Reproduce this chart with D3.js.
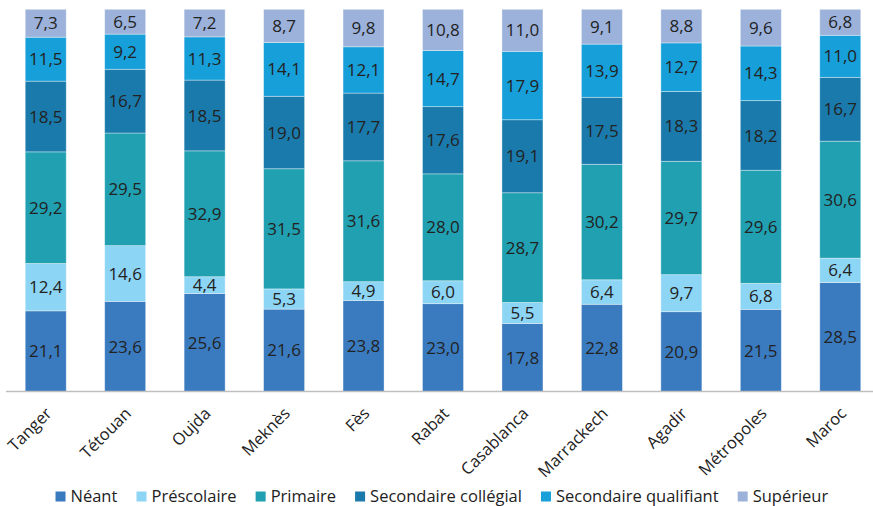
<!DOCTYPE html>
<html>
<head>
<meta charset="utf-8">
<script src="https://cdn.jsdelivr.net/npm/d3@7"></script>
<style>
  html, body { margin: 0; padding: 0; background: #fff; }
  svg { display: block; font-family: "Open Sans", "Noto Sans", sans-serif; }
</style>
</head>
<body>
<svg id="chart" width="873" height="506"></svg>
<script>
// Niveau d'instruction par ville (%)
const categories = ["Tanger", "Tétouan", "Oujda", "Meknès", "Fès", "Rabat",
  "Casablanca", "Marrackech", "Agadir", "Métropoles", "Maroc"];
const seriesNames = ["Néant", "Préscolaire", "Primaire", "Secondaire collégial",
  "Secondaire qualifiant", "Supérieur"];
const neant       = [21.1, 23.6, 25.6, 21.6, 23.8, 23.0, 17.8, 22.8, 20.9, 21.5, 28.5];
const prescolaire = [12.4, 14.6, 4.4, 5.3, 4.9, 6.0, 5.5, 6.4, 9.7, 6.8, 6.4];
const primaire    = [29.2, 29.5, 32.9, 31.5, 31.6, 28.0, 28.7, 30.2, 29.7, 29.6, 30.6];
const college     = [18.5, 16.7, 18.5, 19.0, 17.7, 17.6, 19.1, 17.5, 18.3, 18.2, 16.7];
const qualifiant  = [11.5, 9.2, 11.3, 14.1, 12.1, 14.7, 17.9, 13.9, 12.7, 14.3, 11.0];
const superieur   = [7.3, 6.5, 7.2, 8.7, 9.8, 10.8, 11.0, 9.1, 8.8, 9.6, 6.8];
const colors = ["#3a7bbf", "#8dd5f5", "#20a0b1", "#1a7aab", "#169fd9", "#9cb2db"];

const seriesValues = [neant, prescolaire, primaire, college, qualifiant, superieur];
const rows = categories.map((c, i) => {
  const r = { cat: c };
  seriesNames.forEach((s, j) => { r[s] = seriesValues[j][i]; });
  return r;
});

const svg = d3.select("#chart");
const axisY = 391.5, topY = 9.3;

const x = d3.scaleBand().domain(categories).range([6, 880])
  .paddingInner(0.484).paddingOuter(0.242);
const y = d3.scaleLinear().domain([0, 1]).range([axisY, topY]);
const color = d3.scaleOrdinal().domain(seriesNames).range(colors);

// 100 % stacked columns
const stack = d3.stack().keys(seriesNames).offset(d3.stackOffsetExpand);
const layers = stack(rows);

const g = svg.append("g");
const layer = g.selectAll("g.layer").data(layers).join("g")
  .attr("class", "layer").attr("fill", d => color(d.key));

layer.selectAll("rect").data(d => d.map(p => ({ p, key: d.key }))).join("rect")
  .attr("x", d => x(d.p.data.cat))
  .attr("width", x.bandwidth())
  .attr("y", d => y(d.p[1]))
  .attr("height", d => y(d.p[0]) - y(d.p[1]))
  .attr("stroke", "#ffffff").attr("stroke-opacity", 0.45).attr("stroke-width", 0.8);

// value labels
const fmt = v => d3.format(".1f")(v).replace(".", ",");
layer.selectAll("text").data(d => d.map(p => ({ p, key: d.key }))).join("text")
  .attr("x", d => x(d.p.data.cat) + x.bandwidth() / 2)
  .attr("y", d => (y(d.p[0]) + y(d.p[1])) / 2)
  .attr("dy", "0.36em")
  .attr("text-anchor", "middle")
  .attr("font-size", 17)
  .attr("fill", "#222222")
  .text(d => fmt(d.p.data[d.key]));

// category axis
const xAxis = svg.append("g").attr("transform", `translate(0,${axisY})`)
  .call(d3.axisBottom(x).tickSize(0).tickPadding(0));
xAxis.select(".domain").attr("stroke", "#bfbfbf").attr("stroke-width", 1.5)
  .attr("d", "M6,0H873");
xAxis.selectAll(".tick text")
  .attr("font-family", "'Open Sans', sans-serif")
  .attr("font-size", 16.5)
  .attr("fill", "#222222")
  .attr("text-anchor", "end")
  .attr("dy", 0)
  .attr("y", 0)
  .attr("transform", "translate(7,23) rotate(-45)");

// legend
const legend = svg.append("g").attr("class", "legend");
const items = legend.selectAll("g").data(seriesNames).join("g");
items.append("rect").attr("width", 10).attr("height", 10).attr("y", -10.5)
  .attr("fill", d => color(d));
items.append("text").attr("x", 15).attr("font-size", 16.5).attr("fill", "#222222")
  .text(d => d);
let cursor = 0;
const gap = 19;
items.each(function () {
  const w = this.getBBox().width;
  d3.select(this).attr("data-x", cursor);
  cursor += w + gap;
});
const total = cursor - gap;
const startX = 442 - total / 2;
items.attr("transform", function () {
  return `translate(${startX + +this.getAttribute("data-x")},502)`;
});
</script>
</body>
</html>
